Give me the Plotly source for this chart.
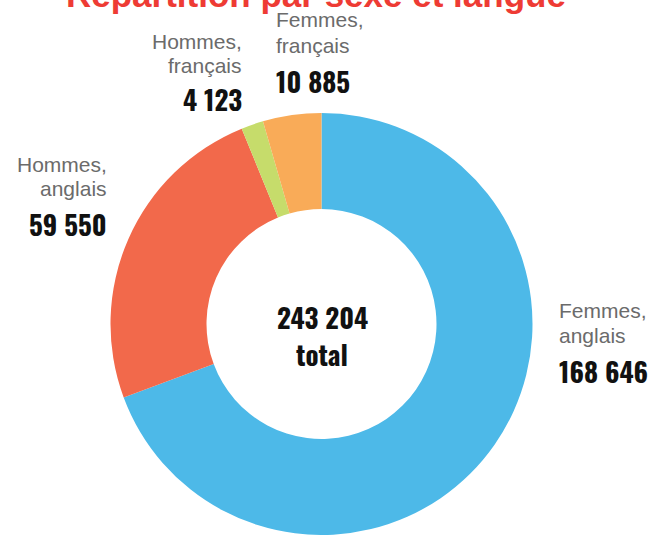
import plotly.graph_objects as go

# Data
categories = ["Femmes, anglais", "Hommes, anglais", "Hommes, français", "Femmes, français"]
values = [168646, 59550, 4123, 10885]
colors = ["#4DB9E8", "#F2694B", "#C6DC6B", "#F9AB58"]
title_text = "Répartition par sexe et langue"
total_label = "total"

W, H = 662, 535

def fmt(n):
    return f"{n:,}".replace(",", " ")

def px(x):
    return x / W

def py(y):
    return 1 - y / H

fig = go.Figure(go.Pie(
    labels=categories,
    values=values,
    marker=dict(colors=colors, line=dict(width=0)),
    hole=0.545,
    sort=False,
    direction="clockwise",
    rotation=0,
    textinfo="none",
    hoverinfo="label+value",
    showlegend=False,
    domain=dict(x=[px(110), px(533)], y=[0, py(113)]),
))

GRAY = "#6b6b6b"
gsize = 21
nsize = 27
gfont = dict(family="Liberation Sans, Arial, sans-serif", size=gsize, color=GRAY)
nfont = dict(family="Oswald, Roboto Condensed, Liberation Sans Narrow, Liberation Sans, sans-serif", size=nsize, color="#111111")

annotations = []

def add(text, x, baseline, font, xanchor):
    annotations.append(dict(
        text=text, x=px(x), y=py(baseline - 0.35 * font["size"]),
        xref="paper", yref="paper", xanchor=xanchor, yanchor="middle",
        showarrow=False, font=font,
    ))

# title (cut off at top)
tfont = dict(family="Liberation Sans, Arial, sans-serif", size=35, color="#EE3B34")
add("<b>" + title_text + "</b>", 316, 7, tfont, "center")

# label blocks: (category index, anchor x, xanchor, baselines of line1, line2, number)
blocks = [
    (0, 557, "left", 318, 343, 380),
    (1, 109, "right", 172, 196, 233),
    (2, 244, "right", 49, 73, 108),
    (3, 274, "left", 27, 53, 90),
]
for idx, x, xa, b1, b2, b3 in blocks:
    l1, l2 = categories[idx].split(" ")
    add(l1, x, b1, gfont, xa)
    add(l2, x, b2, gfont, xa)
    add("<b>" + fmt(values[idx]) + "</b>", x, b3, nfont, xa)

# centre total
add("<b>" + fmt(sum(values)) + "</b>", 322, 326, nfont, "center")
add("<b>" + total_label + "</b>", 322, 363, nfont, "center")

fig.update_layout(
    width=W, height=H,
    margin=dict(l=0, r=0, t=0, b=0),
    paper_bgcolor="white",
    plot_bgcolor="white",
    annotations=annotations,
)

fig.write_html("out.html", config={"displayModeBar": False},
               post_script="document.body.style.margin='0';")
